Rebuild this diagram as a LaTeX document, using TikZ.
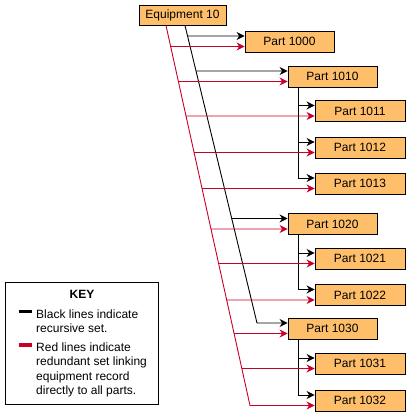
\documentclass[tikz,border=0pt]{standalone}
\usepackage{fontspec}
\setmainfont{Liberation Sans}
\usetikzlibrary{positioning,arrows.meta,calc}
\definecolor{partfill}{RGB}{255,191,106}
\definecolor{setred}{RGB}{200,0,40}
\begin{document}
\begin{tikzpicture}[
        x=1pt, y=-1pt,
        font=\fontsize{12}{14.3}\selectfont,
        >={Stealth[length=8pt,width=8pt]},
        record/.style={rectangle, draw=black, fill=partfill, line width=0.9pt, minimum width=89pt, minimum height=21pt, inner sep=0pt},
        child/.style={record, minimum width=90pt},
        blackset/.style={->, black, line width=0.9pt},
        redset/.style={->, setred, line width=0.9pt},
        swatch/.style={rectangle, minimum width=13pt, minimum height=3.5pt, inner sep=0pt},
        keytext/.style={anchor=north west, align=left, inner sep=0pt}
    ]
        \useasboundingbox (0,0) rectangle (410,415);

        % Records
        \node (equip) at (182.5,15) [record, minimum width=87pt, minimum height=20pt] {Equipment 10};
        \node (p1000) at (289.5,41.5) [record] {Part 1000};
        \node (p1010) at (332.5,76.5) [record] {Part 1010};
            \node (p1011) at (360,111) [child] {Part 1011};
            \node (p1012) at (360,147.5) [child] {Part 1012};
            \node (p1013) at (360,183.5) [child] {Part 1013};
        \node (p1020) at (332.5,224) [record] {Part 1020};
            \node (p1021) at (360,258.5) [child] {Part 1021};
            \node (p1022) at (360,295) [child] {Part 1022};
        \node (p1030) at (332.5,328.5) [record] {Part 1030};
            \node (p1031) at (360,363.5) [child] {Part 1031};
            \node (p1032) at (360,400.5) [child] {Part 1032};

        % Recursive set
        \coordinate (btop) at ([xshift=2.5pt]equip.south);
        \coordinate (bend) at (257,323);
        \draw[blackset] (btop) -- (bend) -- (bend -| p1030.west);
        \foreach \p in {p1000,p1010,p1020}
            \draw[blackset] (intersection cs: first line={(btop)--(bend)}, second line={([yshift=5.5pt]\p.west)--([yshift=5.5pt]\p.east)}) -- ([yshift=5.5pt]\p.west);
        \foreach \m/\kids in {p1010/{p1011,p1012,p1013}, p1020/{p1021,p1022}, p1030/{p1031,p1032}}
            \foreach \k in \kids
                \draw[blackset] ([xshift=11pt]\m.south west) |- ([yshift=5.5pt]\k.west);

        % Redundant set
        \coordinate (rtop) at ([xshift=-16.5pt]equip.south);
        \coordinate (rbot) at (250,405.5);
        \draw[setred, line width=0.9pt] (rtop) -- (rbot);
        \foreach \p in {p1000,p1010,p1011,p1012,p1013,p1020,p1021,p1022,p1030,p1031,p1032}
            \draw[redset] (intersection cs: first line={(rtop)--(rbot)}, second line={([yshift=-5pt]\p.west)--([yshift=-5pt]\p.east)}) -- ([yshift=-5pt]\p.west);

        % Key
        \node (keybox) at (81.5,343) [draw, line width=0.9pt, minimum width=153pt, minimum height=122pt, inner sep=0pt] {};
        \node (keytitle) at (82,294.5) [font=\fontsize{12}{14}\selectfont\bfseries] {KEY};
        \node (blackswatch) at (25.5,311.5) [swatch, fill=black] {};
        \node (redswatch) at (25.5,345) [swatch, fill=setred] {};
        \node (blacknote) at (36,309.4) [keytext] {Black lines indicate\\recursive set.};
        \node (rednote) at (36,342.8) [keytext] {Red lines indicate\\redundant set linking\\equipment record\\directly to all parts.};
    \end{tikzpicture}
\end{document}
